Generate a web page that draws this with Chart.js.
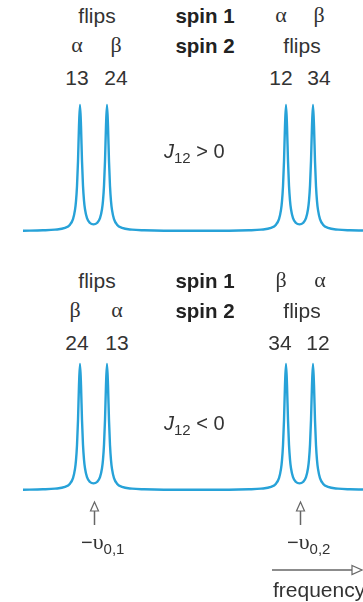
<!DOCTYPE html>
<html>
<head>
<meta charset="utf-8">
<script src="https://cdn.jsdelivr.net/npm/chart.js@4/dist/chart.umd.min.js"></script>
<style>
  html, body { margin: 0; padding: 0; background: #fff; }
  body { width: 363px; height: 602px; position: relative; overflow: hidden;
         font-family: "Liberation Sans", Arial, sans-serif; color: #333; }
  canvas { position: absolute; left: 23px; }
  #topChart { top: 95px; }
  #bottomChart { top: 354px; }
  .t { position: absolute; font-size: 21px; line-height: 21px; white-space: nowrap; transform: translateX(-50%); }
  .g { font-family: "Liberation Serif", "DejaVu Serif", serif; font-size: 22px; }
  .b { font-weight: bold; color: #222; font-size: 20.5px; }
  .j { position: absolute; font-size: 20px; line-height: 20px; white-space: nowrap; }
  .j i { font-style: italic; }
  .j sub, .nu sub { font-size: 15px; vertical-align: -5px; line-height: 0; }
  .nu { position: absolute; font-size: 20px; line-height: 20px; white-space: nowrap; }
  .nu .u { font-family: "Liberation Serif", "DejaVu Serif", serif; font-size: 22px; }
  #freq { position: absolute; left: 273px; top: 579px; font-size: 21px; line-height: 21px; white-space: nowrap; }
  svg { position: absolute; left: 0; top: 0; }
</style>
</head>
<body>
<canvas id="topChart" width="340" height="146"></canvas>
<canvas id="bottomChart" width="340" height="186"></canvas>

<!-- J12 > 0 block -->
<div class="t" style="left:97px;top:5px">flips</div>
<div class="t b" style="left:205px;top:5px">spin 1</div>
<div class="t g" style="left:281px;top:4px">α</div>
<div class="t g" style="left:319px;top:4px">β</div>
<div class="t g" style="left:77px;top:34px">α</div>
<div class="t g" style="left:116px;top:34px">β</div>
<div class="t b" style="left:205px;top:35px">spin 2</div>
<div class="t" style="left:302px;top:35px">flips</div>
<div class="t" style="left:77px;top:67px">13</div>
<div class="t" style="left:116px;top:67px">24</div>
<div class="t" style="left:281px;top:67px">12</div>
<div class="t" style="left:319px;top:67px">34</div>
<div class="j" style="left:164px;top:141px"><i>J</i><sub>12</sub> &gt; 0</div>

<!-- J12 < 0 block -->
<div class="t" style="left:97px;top:270px">flips</div>
<div class="t b" style="left:205px;top:270px">spin 1</div>
<div class="t g" style="left:281px;top:269px">β</div>
<div class="t g" style="left:320px;top:269px">α</div>
<div class="t g" style="left:75px;top:299px">β</div>
<div class="t g" style="left:117px;top:299px">α</div>
<div class="t b" style="left:205px;top:300px">spin 2</div>
<div class="t" style="left:302px;top:300px">flips</div>
<div class="t" style="left:77px;top:332px">24</div>
<div class="t" style="left:117px;top:332px">13</div>
<div class="t" style="left:280px;top:332px">34</div>
<div class="t" style="left:318px;top:332px">12</div>
<div class="j" style="left:164px;top:413px"><i>J</i><sub>12</sub> &lt; 0</div>

<div class="nu" style="left:81px;top:532px">−<span class="u">υ</span><sub>0,1</sub></div>
<div class="nu" style="left:287px;top:532px">−<span class="u">υ</span><sub>0,2</sub></div>

<svg width="363" height="602">
  <line x1="272" y1="570" x2="352" y2="570" stroke="#666" stroke-width="1.5"/>
  <polygon points="352,565.5 362,570 352,574.5" fill="#fff" stroke="#666" stroke-width="1.2"/>
</svg>
<div id="freq">frequency</div>

<script>
// frequency axis in arbitrary units, 0..340 across the plot
const freq = [
  0, 20, 32, 42, 47, 50, 52, 53, 54, 55, 56, 57, 58, 59, 60, 61, 62, 64, 67, 70.5,
  74, 77, 79, 80, 81, 82, 83, 84, 85, 86, 87, 88, 89, 91, 94, 99, 109, 121, 141,
  173.5,
  206, 226, 238, 248, 253, 256, 258, 259, 260, 261, 262, 263, 264, 265, 266, 267, 268, 270, 273, 276.5,
  280, 283, 285, 286, 287, 288, 289, 290, 291, 292, 293, 294, 295, 297, 300, 305, 315, 327, 340
];
const intensity = [
  0.002, 0.005, 0.010, 0.024, 0.050, 0.094, 0.167, 0.237, 0.355, 0.553, 0.835, 1.0, 0.836, 0.555, 0.358, 0.241, 0.172, 0.102, 0.063, 0.052,
  0.063, 0.102, 0.172, 0.241, 0.358, 0.555, 0.836, 1.0, 0.835, 0.553, 0.355, 0.237, 0.167, 0.094, 0.050, 0.024, 0.010, 0.005, 0.002,
  0.002,
  0.002, 0.005, 0.010, 0.024, 0.050, 0.094, 0.167, 0.237, 0.355, 0.553, 0.835, 1.0, 0.836, 0.555, 0.358, 0.241, 0.172, 0.102, 0.063, 0.052,
  0.063, 0.102, 0.172, 0.241, 0.358, 0.555, 0.836, 1.0, 0.835, 0.553, 0.355, 0.237, 0.167, 0.094, 0.050, 0.024, 0.010, 0.005, 0.003
];
// chemical shifts (doublet centres) marked with arrows
const nuCentres = [70.5, 276.5];

const lineColor = "#27a2d8";

// hollow up-arrows below the lower spectrum at each doublet centre
const centreArrows = {
  id: "centreArrows",
  afterDraw(chart) {
    if (!chart.options.plugins.centreArrows.show) return;
    const ctx = chart.ctx;
    const bottom = chart.chartArea.bottom;
    ctx.save();
    ctx.strokeStyle = "#666";
    ctx.fillStyle = "#fff";
    nuCentres.forEach((nu) => {
      const x = Math.round(chart.scales.x.getPixelForValue(nu)) + 0.5;
      ctx.lineWidth = 1.5;
      ctx.beginPath();
      ctx.moveTo(x, bottom + 11);
      ctx.lineTo(x, bottom + 25);
      ctx.stroke();
      ctx.lineWidth = 1.2;
      ctx.beginPath();
      ctx.moveTo(x, bottom + 2);
      ctx.lineTo(x + 4, bottom + 11);
      ctx.lineTo(x - 4, bottom + 11);
      ctx.closePath();
      ctx.fill();
      ctx.stroke();
    });
    ctx.restore();
  },
};

const makeSpectrum = (id, withArrows) => {
  const ctx = document.getElementById(id).getContext("2d");
  return new Chart(ctx, {
    type: "line",
    data: {
      datasets: [
        {
          data: freq.map((f, i) => ({ x: f, y: intensity[i] })),
          borderColor: lineColor,
          borderWidth: 2.4,
          pointRadius: 0,
          fill: false,
          cubicInterpolationMode: "monotone",
        },
      ],
    },
    options: {
      responsive: false,
      animation: false,
      layout: { padding: { left: 0, right: 0, top: 0, bottom: withArrows ? 40 : 0 } },
      plugins: {
        legend: { display: false },
        tooltip: { enabled: false },
        centreArrows: { show: withArrows },
      },
      scales: {
        x: { type: "linear", min: 0, max: 340, display: false },
        y: { min: -0.08, max: 1.08, display: false },
      },
    },
    plugins: [centreArrows],
  });
};

makeSpectrum("topChart", false);
makeSpectrum("bottomChart", true);
</script>
</body>
</html>
